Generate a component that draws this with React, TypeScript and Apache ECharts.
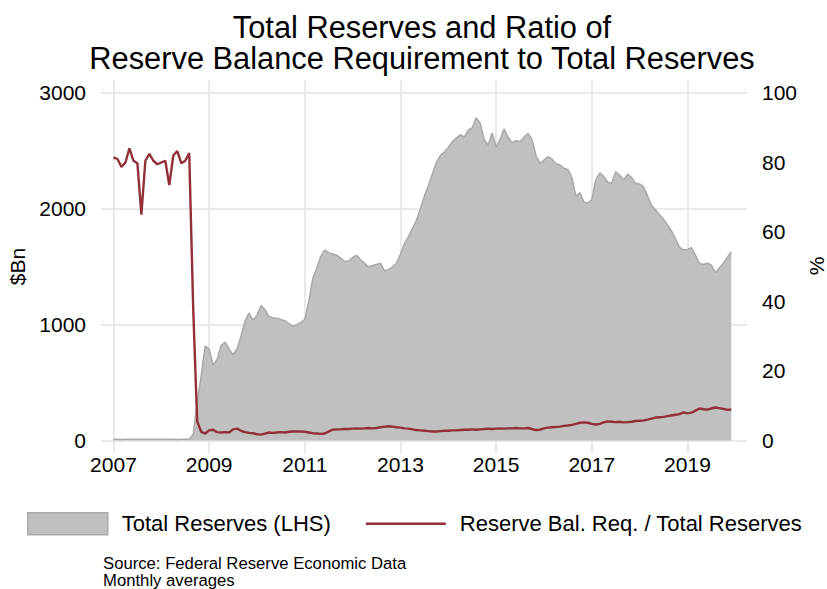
import React, { useEffect, useRef } from 'react';
import * as echarts from 'echarts';

const START_YEAR = 2007;
const xTickYears = [2007, 2009, 2011, 2013, 2015, 2017, 2019];
const leftTicks = [0, 1000, 2000, 3000];
const rightTicks = [0, 20, 40, 60, 80, 100];

const seriesNames = ['Total Reserves (LHS)', 'Reserve Bal. Req. / Total Reserves'];
const axisNames = ['$Bn', '%'];

// Total reserves, $Bn, monthly Jan 2007 .. Dec 2019
const reserves = [
  10, 10, 9, 10, 10, 11, 10, 10, 11, 10, 10, 10,
  11, 10, 10, 10, 9, 10, 10, 10, 55, 320, 560, 815,
  790, 650, 700, 820, 850, 790, 740, 790, 900, 1030, 1100, 1040,
  1080, 1165, 1130, 1070, 1060, 1055, 1045, 1035, 1010, 985, 1000, 1020,
  1045, 1200, 1400, 1490, 1590, 1645, 1620, 1610, 1600, 1575, 1545, 1550,
  1580, 1600, 1560, 1530, 1500, 1510, 1520, 1530, 1465, 1475, 1500, 1530,
  1610, 1700, 1760, 1830, 1900, 2000, 2110, 2200, 2300, 2400, 2460, 2490,
  2530, 2580, 2610, 2640, 2620, 2680, 2700, 2785, 2740, 2600, 2550, 2654,
  2533, 2600, 2690, 2620, 2570, 2590, 2580, 2620, 2650, 2600, 2460, 2390,
  2420, 2450, 2430, 2390, 2380, 2350, 2340, 2270, 2110, 2140, 2060, 2050,
  2080, 2250, 2310, 2280, 2230, 2220, 2320, 2290, 2250, 2300, 2270, 2220,
  2215, 2190, 2110, 2030, 1990, 1950, 1910, 1860, 1810, 1740, 1670, 1645,
  1650, 1665, 1600, 1530, 1520, 1530, 1515, 1450, 1490, 1530, 1580, 1630,
];

// Reserve balance requirement / total reserves, %
const ratio = [
  81.5, 81, 78.7, 80, 84.1, 80.5, 79.8, 65, 80.5, 82.5, 80.5, 79.5,
  80, 80.5, 73.5, 82, 83.3, 79.8, 80.5, 82.7, 38, 5.5, 2.5, 2.0,
  2.9, 3.1, 2.4, 2.3, 2.4, 2.3, 3.2, 3.4, 2.8, 2.4, 2.2, 2.1,
  1.8, 1.7, 2.0, 2.3, 2.2, 2.3, 2.4, 2.3, 2.5, 2.6, 2.6, 2.6,
  2.5, 2.3, 2.1, 2.0, 1.9, 2.0, 2.6, 3.1, 3.2, 3.2, 3.3, 3.3,
  3.4, 3.5, 3.4, 3.5, 3.6, 3.5, 3.6, 3.8, 4.0, 4.1, 4.0, 3.8,
  3.7, 3.5, 3.4, 3.2, 3.0, 2.9, 2.8, 2.7, 2.6, 2.6, 2.7, 2.8,
  2.8, 2.9, 2.9, 3.0, 3.1, 3.1, 3.2, 3.1, 3.2, 3.3, 3.4, 3.3,
  3.4, 3.5, 3.4, 3.5, 3.5, 3.6, 3.5, 3.5, 3.6, 3.3, 3.0, 3.1,
  3.5, 3.7, 3.8, 3.9, 4.0, 4.2, 4.3, 4.5, 4.8, 5.1, 5.2, 5.1,
  4.8, 4.6, 4.8, 5.2, 5.5, 5.4, 5.3, 5.4, 5.2, 5.3, 5.4, 5.6,
  5.7, 5.8, 6.0, 6.3, 6.6, 6.7, 6.8, 7.0, 7.2, 7.4, 7.6, 8.1,
  7.8, 8.0, 8.6, 9.2, 9.0, 8.9, 9.2, 9.5, 9.3, 9.1, 8.8, 8.9,
];

const titleLines = ['Total Reserves and Ratio of', 'Reserve Balance Requirement to Total Reserves'];
const noteLines = ['Source: Federal Reserve Economic Data', 'Monthly averages'];

const FONT = "'Liberation Sans', Arial, sans-serif";
const GRID_COLOR = '#e3e3e3';
const AREA_COLOR = '#c0c0c0';
const AREA_EDGE = '#a9a9a9';
const RED = '#922f38';

export default function App() {
  const ref = useRef<HTMLDivElement>(null);

  useEffect(() => {
    document.body.style.margin = '0';
    const chart = echarts.init(ref.current as HTMLDivElement, null, { renderer: 'svg' });
    const xs = reserves.map((_, i) => START_YEAR + i / 12);
    const option: any = {
      animation: false,
      backgroundColor: '#ffffff',
      textStyle: { fontFamily: FONT },
      grid: {
        left: 101,
        right: 80,
        top: 80,
        bottom: 136,
        containLabel: false,
        outerBoundsMode: 'none',
      },
      legend: {
        left: 27,
        top: 512,
        padding: 0,
        itemWidth: 80,
        itemHeight: 22,
        itemGap: 35,
        textStyle: { fontFamily: FONT, fontSize: 22, color: '#000', padding: [0, 0, 0, 9] },
        data: [
          {
            name: seriesNames[0],
            icon: 'rect',
            itemStyle: { color: AREA_COLOR, borderColor: AREA_EDGE, borderWidth: 1.5 },
          },
          {
            name: seriesNames[1],
            icon: 'path://M0,0H80V2.3H0Z',
            itemStyle: { color: RED, borderWidth: 0 },
          },
        ],
      },
      xAxis: {
        type: 'value',
        min: 2006.739,
        max: 2020.245,
        axisLine: { show: false },
        axisTick: { show: false, customValues: xTickYears },
        axisLabel: {
          customValues: xTickYears,
          formatter: (v: number) => String(Math.round(v)),
          fontFamily: FONT,
          fontSize: 21,
          color: '#000',
          margin: 1,
        },
        splitLine: { show: true, lineStyle: { color: GRID_COLOR, width: 1.5 } },
      },
      yAxis: [
        {
          type: 'value',
          min: -107.9,
          max: 3112.2,
          name: axisNames[0],
          nameLocation: 'middle',
          nameGap: 69,
          nameTextStyle: { fontFamily: FONT, fontSize: 21, color: '#000' },
          axisLine: { show: false },
          axisTick: { show: false, customValues: leftTicks },
          axisLabel: {
            customValues: leftTicks,
            formatter: (v: number) => String(Math.round(v)),
            fontFamily: FONT,
            fontSize: 21,
            color: '#000',
            margin: 15,
          },
          splitLine: { show: true, lineStyle: { color: GRID_COLOR, width: 1.5 } },
        },
        {
          type: 'value',
          min: -3.6,
          max: 103.74,
          axisLine: { show: false },
          axisTick: { show: false, customValues: rightTicks },
          axisLabel: {
            customValues: rightTicks,
            formatter: (v: number) => String(Math.round(v)),
            fontFamily: FONT,
            fontSize: 21,
            color: '#000',
            margin: 15,
          },
          splitLine: { show: false },
        },
      ],
      series: [
        {
          name: seriesNames[0],
          type: 'line',
          yAxisIndex: 0,
          data: xs.map((x, i) => [x, reserves[i]]),
          symbol: 'none',
          showSymbol: false,
          color: AREA_COLOR,
          itemStyle: { color: AREA_COLOR },
          lineStyle: { color: AREA_EDGE, width: 1.5 },
          areaStyle: { color: AREA_COLOR, opacity: 1 },
          z: 2,
        },
        {
          name: seriesNames[1],
          type: 'line',
          yAxisIndex: 1,
          data: xs.map((x, i) => [x, ratio[i]]),
          symbol: 'none',
          showSymbol: false,
          color: RED,
          lineStyle: { color: RED, width: 2.4 },
          z: 3,
        },
      ],
      graphic: [
        {
          type: 'text',
          x: 422,
          y: 27,
          style: {
            text: titleLines[0],
            fontFamily: FONT,
            fontSize: 30.8,
            lineHeight: 30.8,
            fill: '#000',
            align: 'center',
            verticalAlign: 'middle',
          },
        },
        {
          type: 'text',
          x: 422,
          y: 58.5,
          style: {
            text: titleLines[1],
            fontFamily: FONT,
            fontSize: 30.8,
            lineHeight: 30.8,
            fill: '#000',
            align: 'center',
            verticalAlign: 'middle',
          },
        },
        {
          type: 'text',
          x: 816,
          y: 266,
          rotation: Math.PI / 2,
          style: {
            text: axisNames[1],
            fontFamily: FONT,
            fontSize: 21,
            lineHeight: 21,
            fill: '#000',
            align: 'center',
            verticalAlign: 'middle',
          },
        },
        {
          type: 'text',
          x: 103,
          y: 563,
          style: {
            text: noteLines[0],
            fontFamily: FONT,
            fontSize: 16.7,
            lineHeight: 16.7,
            fill: '#000',
            align: 'left',
            verticalAlign: 'middle',
          },
        },
        {
          type: 'text',
          x: 103,
          y: 580.5,
          style: {
            text: noteLines[1],
            fontFamily: FONT,
            fontSize: 16.7,
            lineHeight: 16.7,
            fill: '#000',
            align: 'left',
            verticalAlign: 'middle',
          },
        },
      ],
    };
    chart.setOption(option);
    return () => chart.dispose();
  }, []);

  return <div ref={ref} style={{ width: 827, height: 589 }} />;
}
